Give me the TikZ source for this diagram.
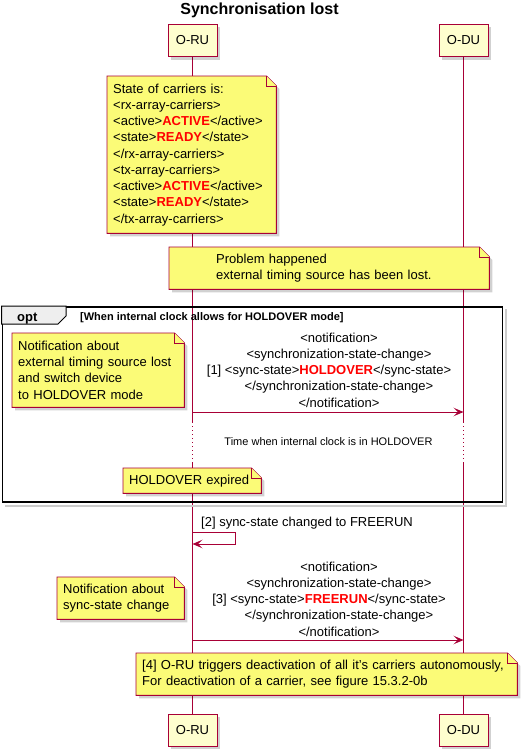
\documentclass[tikz,border=0pt]{standalone}
\usepackage{fontspec}
\setmainfont{Liberation Sans}
\usetikzlibrary{arrows.meta}
\definecolor{pline}{HTML}{A80036}
\definecolor{pbox}{HTML}{FEFECE}
\definecolor{nfill}{HTML}{FBFB77}
\definecolor{tabfill}{HTML}{EEEEEE}
\definecolor{hired}{HTML}{FF0000}
\pgfdeclarelayer{back}
\pgfdeclarelayer{notes}
\pgfsetlayers{back,notes,main}
\newcommand\nf{\fontsize{13}{16.25}\selectfont}
\newcommand\hl[1]{\textcolor{hired}{\textbf{#1}}}
\newcommand\notebg[1]{%
\begin{pgfonlayer}{notes}
\fill[shadowst] ([shift={(3pt,-3pt)}]#1.north west) -- ([shift={(-7pt,-3pt)}]#1.north east) -- ([shift={(3pt,-13pt)}]#1.north east) -- ([shift={(3pt,-3pt)}]#1.south east) -- ([shift={(3pt,-3pt)}]#1.south west) -- cycle;
\filldraw[notest] (#1.north west) -- ([xshift=-10pt]#1.north east) -- ([yshift=-10pt]#1.north east) -- (#1.south east) -- (#1.south west) -- cycle;
\draw[notest] ([xshift=-10pt]#1.north east) -- ([shift={(-10pt,-10pt)}]#1.north east) -- ([yshift=-10pt]#1.north east);
\end{pgfonlayer}}
\newcommand\boxshadow[1]{%
\begin{pgfonlayer}{notes}
\fill[shadowst] ([shift={(3pt,-3pt)}]#1.north west) rectangle ([shift={(3pt,-3pt)}]#1.south east);
\end{pgfonlayer}}
\begin{document}
\begin{tikzpicture}[x=1pt,y=-1pt,
  shadowst/.style={fill=black, opacity=0.18},
  actor/.style={draw=pline, fill=pbox, line width=0.9pt, minimum width=49pt, minimum height=32pt, inner sep=0pt, font=\nf},
  life/.style={draw=pline, line width=0.9pt},
  lifedot/.style={draw=pline, line width=0.9pt, dash pattern=on 1pt off 3pt},
  notest/.style={draw=pline, fill=nfill, line width=0.9pt},
  note/.style={anchor=north west, inner xsep=6pt, inner ysep=0pt, align=left, font=\nf},
  msgtxt/.style={align=center, inner sep=0pt, font=\nf},
  msgar/.style={draw=pline, line width=0.9pt, -{Stealth[length=10pt,width=8.5pt,inset=4.5pt]}},
  freetxt/.style={inner sep=0pt, font=\nf}]
\useasboundingbox (0,0) rectangle (526,752);

% title
\node[inner sep=0pt, anchor=base, font=\bfseries\fontsize{16}{19}\selectfont] (title) at (259.5,14.5) {Synchronisation lost};

% participants
\node[actor] (ru) at (192.5,40.5) {O-RU};
\node[actor] (du) at (463.5,40.5) {O-DU};
\node[actor] (rub) at (192.5,730) {O-RU};
\node[actor] (dub) at (463.5,730) {O-DU};
\boxshadow{ru}\boxshadow{du}\boxshadow{rub}\boxshadow{dub}

% lifelines
\begin{pgfonlayer}{back}
\draw[life] (ru.south) -- (ru.south |- 0,422);
\draw[lifedot] (ru.south |- 0,422) -- (ru.south |- 0,462);
\draw[life] (ru.south |- 0,462) -- (rub.north);
\draw[life] (du.south) -- (du.south |- 0,422);
\draw[lifedot] (du.south |- 0,422) -- (du.south |- 0,462);
\draw[life] (du.south |- 0,462) -- (dub.north);
\end{pgfonlayer}

% note 1
\node[note, text width=157pt, minimum height=157pt] (n1) at (107,76) {State of carriers is:\\
<rx-array-carriers>\\
<active>\hl{ACTIVE}</active>\\
<state>\hl{READY}</state>\\
</rx-array-carriers>\\
<tx-array-carriers>\\
<active>\hl{ACTIVE}</active>\\
<state>\hl{READY}</state>\\
</tx-array-carriers>};
\notebg{n1}

% note 2
\node[note, text width=308pt, minimum height=42pt] (n2) at (169,247) {\hspace*{41pt}Problem happened\\\hspace*{41pt}external timing source has been lost.};
\notebg{n2}

% opt frame
\node[draw=black, line width=1.5pt, minimum width=500pt, minimum height=195pt, anchor=north west, inner sep=0pt] (opt) at (1.5,306) {};
\begin{pgfonlayer}{notes}
\draw[black!20, line width=2pt] ([shift={(3pt,-3pt)}]opt.north east) -- ([shift={(3pt,-3pt)}]opt.south east) -- ([shift={(3pt,-3pt)}]opt.south west);
\end{pgfonlayer}
\filldraw[fill=tabfill, draw=black, line width=1pt] (opt.north west) -- ++(64.5,0) -- ++(0,10) -- ++(-8,8) -- ++(-56.5,0) -- cycle;
\node[inner sep=0pt, anchor=base west, font=\bfseries\fontsize{13}{16}\selectfont] (optl) at (17,321) {opt};
\node[inner sep=0pt, anchor=base west, font=\bfseries\fontsize{11}{13}\selectfont] (guard) at (80,320.5) {[When internal clock allows for HOLDOVER mode]};

% note 3
\node[note, text width=160pt, minimum height=74pt] (n3) at (12,333) {Notification about\\external timing source lost\\and switch device\\to HOLDOVER mode};
\notebg{n3}

% message 1
\node[msgtxt] (t1) at (339,370) {<notification>\\<synchronization-state-change>\\{}[1] <sync-state>\hl{HOLDOVER}</sync-state>\kern20pt\\</synchronization-state-change>\\</notification>};
\coordinate (m1a) at (ru.south |- 0,412);
\coordinate (m1b) at (du.south |- 0,412);
\draw[msgar] (m1a) -- (m1b);

% delay
\node[inner sep=0pt, anchor=base, font=\fontsize{11}{13}\selectfont] (delay) at (328.5,445.5) {Time when internal clock is in HOLDOVER};

% note 4
\node[note, text width=126pt, minimum height=25pt] (n4) at (123,468) {HOLDOVER expired};
\notebg{n4}

% self message 2
\node[freetxt, anchor=base west] (t2) at (201,526.5) {[2] sync-state changed to FREERUN};
\coordinate (s1) at (ru.south |- 0,532);
\coordinate (s2) at (ru.south |- 0,544);
\draw[msgar] (s1) -- ++(42.5,0) |- (s2);

% note 5
\node[note, text width=115pt, minimum height=42pt] (n5) at (57,577) {Notification about\\sync-state change};
\notebg{n5}

% message 3
\node[msgtxt] (t3) at (339,599) {<notification>\\<synchronization-state-change>\\{}[3] <sync-state>\hl{FREERUN}</sync-state>\kern20pt\\</synchronization-state-change>\\</notification>};
\coordinate (m3a) at (ru.south |- 0,640);
\coordinate (m3b) at (du.south |- 0,640);
\draw[msgar] (m3a) -- (m3b);

% note 6
\node[note, text width=369pt, minimum height=42pt] (n6) at (136,653) {[4] O-RU triggers deactivation of all it's carriers autonomously,\\For deactivation of a carrier, see figure 15.3.2-0b};
\notebg{n6}
\end{tikzpicture}
\end{document}
